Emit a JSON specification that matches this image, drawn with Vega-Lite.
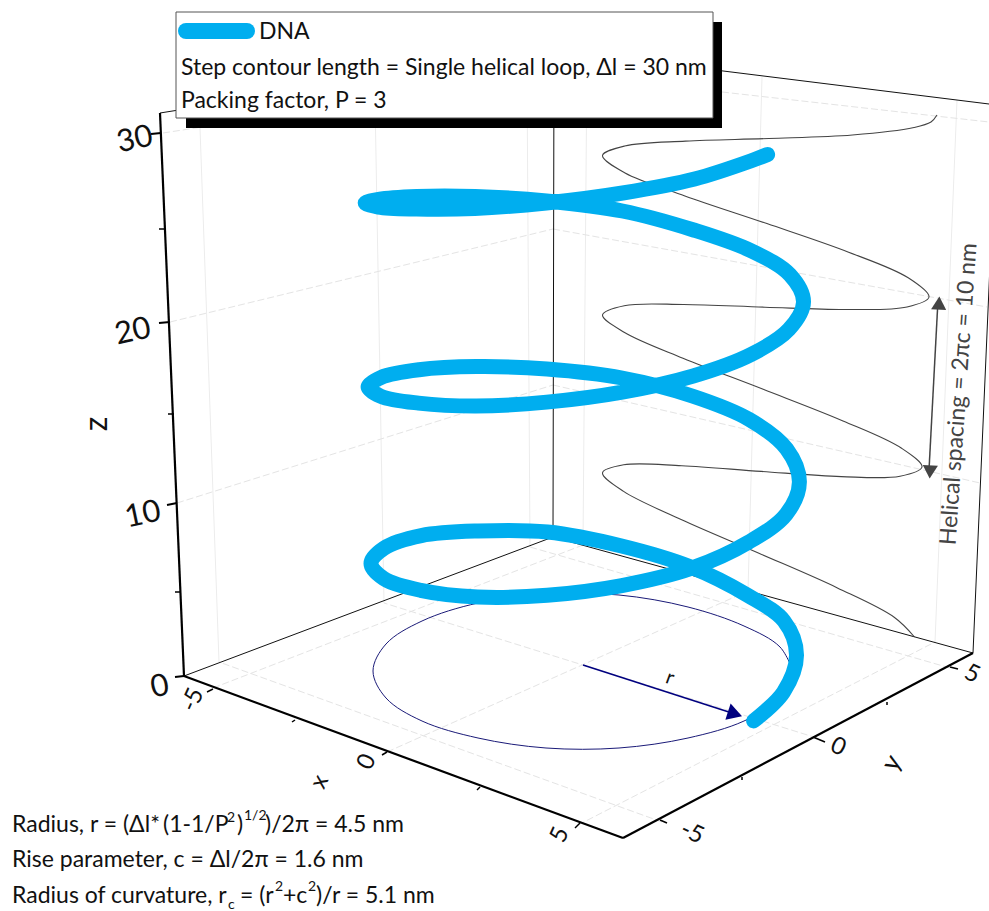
{
"$schema":"https://vega.github.io/schema/vega-lite/v6.json",
"width":989,"height":911,"padding":0,"autosize":{"type":"none"},"background":"white",
"config":{"view":{"stroke":null},"font":"Lato"},
"datasets":{
"gridDash":[
{"u":177,"v":503,"u2":553,"v2":385},{"u":553,"v":385,"u2":980,"v2":483},
{"u":170,"v":322,"u2":553,"v2":229},{"u":553,"v":229,"u2":987,"v2":307},
{"u":163,"v":133,"u2":553,"v2":73},{"u":553,"v":73,"u2":989,"v2":122},
{"u":213,"v":688,"u2":583,"v2":545},{"u":387,"v":752,"u2":748,"v2":591},{"u":578,"v":825,"u2":935,"v2":642},
{"u":662,"v":822,"u2":219,"v2":662},{"u":817,"v":738,"u2":384,"v2":603},{"u":950,"v":668,"u2":530,"v2":547}],
"gridSolid":[
{"u":200,"v":128,"u2":219,"v2":662},{"u":375,"v":100,"u2":384,"v2":603},{"u":527,"v":75,"u2":530,"v2":547},
{"u":587,"v":55,"u2":583,"v2":545},{"u":762,"v":77,"u2":748,"v2":591},{"u":957,"v":100,"u2":935,"v2":642}],
"frameThin":[
{"u":184,"v":676,"u2":553,"v2":537},{"u":553,"v":537,"u2":973,"v2":653},{"u":554,"v":50,"u2":553,"v2":537},
{"u":973,"v":653,"u2":997,"v2":105},{"u":554,"v":50,"u2":997,"v2":105},{"u":160,"v":113,"u2":554,"v2":50}],
"frameThick":[
{"u":184,"v":676,"u2":623,"v2":838},{"u":623,"v":838,"u2":973,"v2":653},{"u":184,"v":676,"u2":160,"v2":113},
{"u":175,"v":677,"u2":184,"v2":676},{"u":167,"v":505,"u2":177,"v2":503},{"u":159,"v":323,"u2":170,"v2":322},{"u":151,"v":134,"u2":161,"v2":133}],
"ticks":[
{"u":175,"v":592,"u2":181,"v2":592},{"u":168,"v":414,"u2":174,"v2":414},{"u":159,"v":229,"u2":165,"v2":229},
{"u":213,"v":689,"u2":207,"v2":692},{"u":387,"v":752,"u2":382,"v2":755},{"u":580,"v":823,"u2":575,"v2":828},
{"u":295,"v":720,"u2":292,"v2":722},{"u":480,"v":787,"u2":477,"v2":790},
{"u":660,"v":820,"u2":667,"v2":823},{"u":813,"v":737,"u2":825,"v2":742},{"u":950,"v":667,"u2":958,"v2":669},
{"u":742,"v":777,"u2":742,"v2":780},{"u":887,"v":702,"u2":887,"v2":705}],
"circle":[
{"i":1,"u":793,"v":671},{"i":2,"u":780,"v":698},{"i":3,"u":744,"v":721},{"i":4,"u":688,"v":738},{"i":5,"u":619,"v":748},{"i":6,"u":546,"v":748},{"i":7,"u":478,"v":738},{"i":8,"u":422,"v":721},{"i":9,"u":386,"v":698},{"i":10,"u":373,"v":671},{"i":11,"u":386,"v":644},{"i":12,"u":422,"v":621},{"i":13,"u":478,"v":603},{"i":14,"u":546,"v":594},{"i":15,"u":619,"v":595},{"i":16,"u":688,"v":607},{"i":17,"u":744,"v":626},{"i":18,"u":780,"v":647},{"i":19,"u":793,"v":671}],
"side":[
{"i":1,"u":914.5,"v":637},{"i":2,"u":894.2,"v":617.2},{"i":3,"u":837.4,"v":587.9},{"i":4,"u":759.5,"v":553.5},{"i":5,"u":681.1,"v":519.5},{"i":6,"u":623.6,"v":491.4},{"i":7,"u":602.5,"v":472.8},{"i":8,"u":623.7,"v":464.8},{"i":9,"u":681.8,"v":465.7},{"i":10,"u":761.3,"v":471.4},{"i":11,"u":841.2,"v":476.6},{"i":12,"u":900,"v":476.2},{"i":13,"u":922,"v":467},{"i":14,"u":901.2,"v":448},{"i":15,"u":843,"v":420.9},{"i":16,"u":763.2,"v":389.3},{"i":17,"u":683,"v":358.2},{"i":18,"u":624.1,"v":332.2},{"i":19,"u":602.5,"v":315},{"i":20,"u":624.2,"v":305.7},{"i":21,"u":683.6,"v":304.5},{"i":22,"u":765,"v":307.2},{"i":23,"u":846.8,"v":309.5},{"i":24,"u":907,"v":307},{"i":25,"u":929,"v":297},{"i":26,"u":908.2,"v":277.8},{"i":27,"u":848.6,"v":252.2},{"i":28,"u":766.9,"v":223.6},{"i":29,"u":684.9,"v":195.9},{"i":30,"u":624.6,"v":172.7},{"i":31,"u":602.5,"v":155.5},{"i":32,"u":624.7,"v":146},{"i":33,"u":685.5,"v":141.1},{"i":34,"u":768.8,"v":138.5},{"i":35,"u":852.4,"v":135},{"i":36,"u":914,"v":127.5},{"i":37,"u":931,"v":122},{"i":38,"u":937,"v":115}],
"helix":[
{"i":1,"u":753.6,"v":720.9},{"i":2,"u":783.6,"v":692},{"i":3,"u":796.5,"v":655},{"i":4,"u":784,"v":621},{"i":5,"u":747.1,"v":595},{"i":6,"u":690.8,"v":567},{"i":7,"u":621.5,"v":546},{"i":8,"u":547.5,"v":532},{"i":9,"u":478,"v":531},{"i":10,"u":421.3,"v":535.6},{"i":11,"u":384,"v":548.2},{"i":12,"u":371,"v":563.4},{"i":13,"u":383.7,"v":578.4},{"i":14,"u":420.7,"v":590.3},{"i":15,"u":477.5,"v":597},{"i":16,"u":547.2,"v":595.3},{"i":17,"u":621.8,"v":585.6},{"i":18,"u":691.7,"v":568.2},{"i":19,"u":748.9,"v":542},{"i":20,"u":786.3,"v":514.1},{"i":21,"u":799.4,"v":482},{"i":22,"u":786.7,"v":449},{"i":23,"u":749.3,"v":419.5},{"i":24,"u":692.2,"v":396},{"i":25,"u":622,"v":378},{"i":26,"u":547,"v":369},{"i":27,"u":476.6,"v":366.6},{"i":28,"u":419,"v":369.7},{"i":29,"u":381.3,"v":377.3},{"i":30,"u":368.1,"v":386.9},{"i":31,"u":381,"v":396.3},{"i":32,"u":418.5,"v":403.1},{"i":33,"u":476.1,"v":406},{"i":34,"u":546.7,"v":402.1},{"i":35,"u":622.3,"v":392.1},{"i":36,"u":693.2,"v":376},{"i":37,"u":751.1,"v":354.5},{"i":38,"u":789,"v":329.3},{"i":39,"u":803.5,"v":302},{"i":40,"u":790,"v":274.9},{"i":41,"u":751.6,"v":251},{"i":42,"u":693.6,"v":230},{"i":43,"u":622.4,"v":211},{"i":44,"u":546.5,"v":201},{"i":45,"u":475.1,"v":196.5},{"i":46,"u":416.8,"v":196.5},{"i":47,"u":378.6,"v":199.4},{"i":48,"u":365.2,"v":203},{"i":49,"u":378.3,"v":207.1},{"i":50,"u":416.3,"v":209},{"i":51,"u":474.7,"v":208.5},{"i":52,"u":546.3,"v":203},{"i":53,"u":622.7,"v":193},{"i":54,"u":694.6,"v":179},{"i":55,"u":753.3,"v":160},{"i":56,"u":767.6,"v":154.5}],
"body":[
{"t":"DNA","u":259,"v":39},
{"t":"Step contour length = Single helical loop, Δl = 30 nm","u":181,"v":75},
{"t":"Packing factor, P = 3","u":181,"v":108},
{"t":"Radius, r = (Δl*","u":12,"v":832},
{"t":"(1-1/P","u":163,"v":832},
{"t":")","u":237,"v":832},
{"t":")/2π = 4.5 nm","u":265,"v":832},
{"t":"Rise parameter, c = Δl/2π  = 1.6 nm","u":12,"v":867},
{"t":"Radius of curvature, r","u":12,"v":903},
{"t":"= (r","u":240,"v":903},
{"t":"+c","u":283,"v":903},
{"t":")/r = 5.1 nm","u":316,"v":903}],
"small":[
{"t":"2","u":227,"v":822},{"t":"1/2","u":244,"v":820},{"t":"c","u":228,"v":909},{"t":"2","u":275,"v":891},{"t":"2","u":308,"v":891}]
},
"encoding":{
"x":{"field":"u","type":"quantitative","scale":{"domain":[0,989],"zero":false,"nice":false},"axis":null},
"y":{"field":"v","type":"quantitative","scale":{"domain":[911,0],"zero":false,"nice":false},"axis":null}
},
"layer":[
{"data":{"name":"gridSolid"},"mark":{"type":"rule","stroke":"#ececec","strokeWidth":1,"clip":true},"encoding":{"x2":{"field":"u2"},"y2":{"field":"v2"}}},
{"data":{"name":"gridDash"},"mark":{"type":"rule","stroke":"#e4e4e4","strokeWidth":1,"strokeDash":[7,3],"clip":true},"encoding":{"x2":{"field":"u2"},"y2":{"field":"v2"}}},
{"data":{"name":"frameThin"},"mark":{"type":"rule","stroke":"#111111","strokeWidth":1,"clip":true},"encoding":{"x2":{"field":"u2"},"y2":{"field":"v2"}}},
{"data":{"name":"frameThick"},"mark":{"type":"rule","stroke":"#000000","strokeWidth":2.2},"encoding":{"x2":{"field":"u2"},"y2":{"field":"v2"}}},
{"data":{"name":"ticks"},"mark":{"type":"rule","stroke":"#000000","strokeWidth":1.5},"encoding":{"x2":{"field":"u2"},"y2":{"field":"v2"}}},
{"data":{"name":"side"},"mark":{"type":"line","stroke":"#444444","strokeWidth":1.1,"interpolate":"catmull-rom"},"encoding":{"order":{"field":"i"}}},
{"data":{"name":"circle"},"mark":{"type":"line","stroke":"#1a1a78","strokeWidth":1,"interpolate":"catmull-rom"},"encoding":{"order":{"field":"i"}}},
{"data":{"values":[{"u":583,"v":665,"u2":735,"v2":714}]},"mark":{"type":"rule","stroke":"#00007f","strokeWidth":1.6},"encoding":{"x2":{"field":"u2"},"y2":{"field":"v2"}}},
{"data":{"values":[{"u":735,"v":714}]},"mark":{"type":"point","shape":"triangle-up","filled":true,"fill":"#00007f","opacity":1,"size":290,"angle":108}},
{"data":{"values":[{"u":938,"v":300,"u2":929,"v2":470}]},"mark":{"type":"rule","stroke":"#444444","strokeWidth":1.5},"encoding":{"x2":{"field":"u2"},"y2":{"field":"v2"}}},
{"data":{"values":[{"u":939,"v":303}]},"mark":{"type":"point","shape":"triangle-up","filled":true,"fill":"#444444","opacity":1,"size":230,"angle":3}},
{"data":{"values":[{"u":930,"v":472}]},"mark":{"type":"point","shape":"triangle-down","filled":true,"fill":"#444444","opacity":1,"size":230,"angle":3}},
{"data":{"name":"helix"},"mark":{"type":"line","stroke":"#00AEEF","strokeWidth":15,"strokeCap":"round","strokeJoin":"round","interpolate":"catmull-rom"},"encoding":{"order":{"field":"i"}}},
{"data":{"values":[{"u":186,"v":22,"u2":722,"v2":128}]},"mark":{"type":"rect","fill":"#000000"},"encoding":{"x2":{"field":"u2"},"y2":{"field":"v2"}}},
{"data":{"values":[{"u":176,"v":12,"u2":713,"v2":118}]},"mark":{"type":"rect","fill":"#ffffff","stroke":"#555555","strokeWidth":1},"encoding":{"x2":{"field":"u2"},"y2":{"field":"v2"}}},
{"data":{"values":[{"i":1,"u":186,"v":31},{"i":2,"u":247,"v":31}]},"mark":{"type":"line","stroke":"#00AEEF","strokeWidth":16,"strokeCap":"round"},"encoding":{"order":{"field":"i"}}},
{"data":{"name":"body"},"mark":{"type":"text","align":"left","baseline":"alphabetic","fontSize":23,"font":"Lato","fill":"#111111"},"encoding":{"text":{"field":"t"}}},
{"data":{"name":"small"},"mark":{"type":"text","align":"left","baseline":"alphabetic","fontSize":14,"font":"Lato","fill":"#111111"},"encoding":{"text":{"field":"t"}}},
{"data":{"values":[{"t":"0","u":160,"v":687},{"t":"10","u":143,"v":515},{"t":"20","u":133,"v":332},{"t":"30","u":135,"v":140}]},"mark":{"type":"text","align":"center","baseline":"middle","fontSize":31,"font":"Lato","fill":"#111111","angle":348},"encoding":{"text":{"field":"t"}}},
{"data":{"values":[{"t":"z","u":97,"v":424}]},"mark":{"type":"text","align":"center","baseline":"middle","fontSize":32,"font":"Lato","fill":"#111111","angle":270},"encoding":{"text":{"field":"t"}}},
{"data":{"values":[{"t":"-5","u":193,"v":700},{"t":"0","u":367,"v":762},{"t":"5","u":560,"v":835},{"t":"x","u":320,"v":782}]},"mark":{"type":"text","align":"center","baseline":"middle","fontSize":24,"font":"Lato","fill":"#111111","angle":295},"encoding":{"text":{"field":"t"}}},
{"data":{"values":[{"t":"-5","u":692,"v":833},{"t":"0","u":838,"v":747},{"t":"5","u":972,"v":674}]},"mark":{"type":"text","align":"center","baseline":"middle","fontSize":24,"font":"Lato","fill":"#111111","angle":25},"encoding":{"text":{"field":"t"}}},
{"data":{"values":[{"t":"y","u":892,"v":763}]},"mark":{"type":"text","align":"center","baseline":"middle","fontSize":26,"font":"Lato","fill":"#111111","angle":300},"encoding":{"text":{"field":"t"}}},
{"data":{"values":[{"t":"r","u":670,"v":678}]},"mark":{"type":"text","align":"center","baseline":"middle","fontSize":20,"font":"Lato","fill":"#111111","angle":20},"encoding":{"text":{"field":"t"}}},
{"data":{"values":[{"t":"Helical spacing = 2πc = 10 nm","u":959,"v":394}]},"mark":{"type":"text","align":"center","baseline":"middle","fontSize":23,"font":"Lato","fill":"#444444","angle":274},"encoding":{"text":{"field":"t"}}}
]
}
